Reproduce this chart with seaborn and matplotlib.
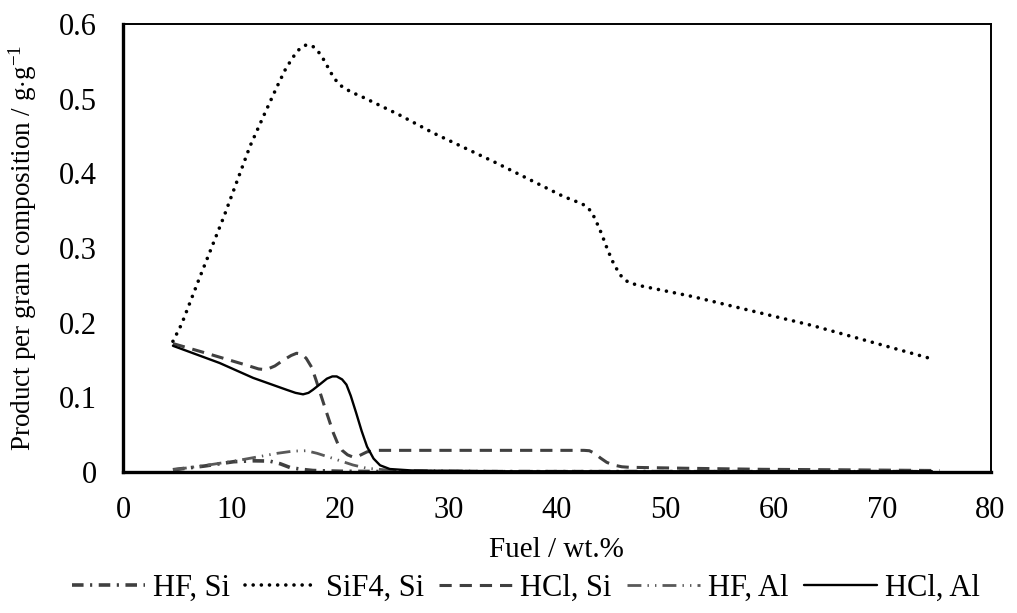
import matplotlib
matplotlib.use("Agg")
import matplotlib.pyplot as plt
import seaborn as sns
import pandas as pd

# Fuel loading (wt.%) and product yield per gram of composition (g/g)
sif4_si_x = [4.6, 5.4, 7.0, 9.3, 11.7, 13.0, 14.2, 15.0, 15.7, 16.3, 16.9, 17.5, 18.0,
             18.6, 19.1, 19.6, 20.0, 21.0, 22.1, 25.5, 28.6, 34.4, 40.6, 42.0, 42.6, 43.1,
             43.5, 44.1, 44.7, 45.3, 46.0, 46.6, 47.5, 52.5, 63.6, 74.7]
sif4_si_y = [0.175, 0.198, 0.258, 0.342, 0.436, 0.478, 0.516, 0.540, 0.556, 0.567, 0.572,
             0.570, 0.563, 0.550, 0.536, 0.525, 0.518, 0.509, 0.502, 0.478, 0.454, 0.414,
             0.369, 0.361, 0.357, 0.350, 0.340, 0.320, 0.297, 0.277, 0.261, 0.254, 0.250,
             0.235, 0.196, 0.151]

hcl_si_x = [4.6, 7.7, 11.4, 12.5, 13.2, 14.0, 14.8, 15.5, 16.0, 16.5, 16.9, 17.4, 17.8,
            18.6, 19.4, 19.8, 20.2, 20.7, 21.2, 21.8, 22.5, 23.5, 24.0, 30.0, 40.0, 42.5,
            43.0, 43.5, 44.0, 44.6, 45.2, 46.0, 46.7, 52.0, 59.0, 66.0, 75.3]
hcl_si_y = [0.172, 0.159, 0.143, 0.138, 0.137, 0.142, 0.150, 0.156, 0.159, 0.158, 0.152,
            0.140, 0.123, 0.087, 0.052, 0.038, 0.029, 0.023, 0.020, 0.022, 0.027, 0.029,
            0.029, 0.029, 0.029, 0.029, 0.0285, 0.025, 0.019, 0.013, 0.0094, 0.007,
            0.0063, 0.005, 0.0036, 0.003, 0.002]

hcl_al_x = [4.6, 8.9, 12.0, 15.1, 15.9, 16.6, 17.1, 17.5, 18.2, 18.8, 19.3, 19.7, 20.2,
            20.6, 21.0, 21.5, 22.0, 22.5, 23.1, 23.7, 24.6, 26.7, 35.0, 50.0, 74.6]
hcl_al_y = [0.169, 0.146, 0.126, 0.110, 0.106, 0.104, 0.106, 0.110, 0.118, 0.125, 0.128,
            0.128, 0.124, 0.117, 0.102, 0.079, 0.055, 0.034, 0.018, 0.009, 0.004, 0.002,
            0.001, 0.001, 0.001]

hf_si_x = [4.6, 7.5, 10.2, 12.0, 13.5, 14.5, 15.4, 16.5, 17.5, 20.0, 25.0, 40.0, 60.0, 74.6]
hf_si_y = [0.003, 0.008, 0.0138, 0.015, 0.0147, 0.011, 0.006, 0.0035, 0.002, 0.001,
           0.0005, 0.0005, 0.0005, 0.0005]

hf_al_x = [4.6, 7.7, 10.8, 14.2, 15.7, 16.9, 17.9, 19.4, 21.2, 22.5, 24.9, 35.0, 74.6]
hf_al_y = [0.003, 0.009, 0.016, 0.025, 0.028, 0.0285, 0.025, 0.018, 0.0094, 0.005,
           0.002, 0.001, 0.001]

x_ticks = [0, 10, 20, 30, 40, 50, 60, 70, 80]
y_ticks = [0, 0.1, 0.2, 0.3, 0.4, 0.5, 0.6]
y_tick_labels = ["0", "0.1", "0.2", "0.3", "0.4", "0.5", "0.6"]

sns.set_theme(style="white")
plt.rcParams["font.family"] = ["Liberation Serif", "DejaVu Serif"]
plt.rcParams["mathtext.fontset"] = "custom"
plt.rcParams["mathtext.rm"] = "Liberation Serif"
plt.rcParams["mathtext.it"] = "Liberation Serif:italic"

fig = plt.figure(figsize=(10.17, 6.13), dpi=100)
ax = fig.add_axes([0.121, 0.230, 0.853, 0.731])

series = [
    ("HF, Si", hf_si_x, hf_si_y, dict(color="#404040", lw=2.6), (3.2, 1.8, 0.6, 1.8)),
    ("SiF4, Si", sif4_si_x, sif4_si_y, dict(color="black", lw=2.6, dash_capstyle="round"),
     (0.01, 2.25)),
    ("HCl, Si", hcl_si_x, hcl_si_y, dict(color="#404040", lw=2.2), (4.0, 2.6)),
    ("HF, Al", hf_al_x, hf_al_y, dict(color="#595959", lw=2.0), (5.0, 2.2, 0.5, 2.2, 0.5, 2.2)),
    ("HCl, Al", hcl_al_x, hcl_al_y, dict(color="black", lw=1.7), None),
]

for name, xs, ys, style, dashes in series:
    df = pd.DataFrame({"x": xs, "y": ys})
    sns.lineplot(data=df, x="x", y="y", ax=ax, label=name, sort=False,
                 estimator=None, **style)
    if dashes is not None:
        ax.lines[-1].set_dashes(dashes)

ax.set_xlim(0, 80)
ax.set_ylim(0, 0.6)
ax.set_xticks(x_ticks)
ax.set_yticks(y_ticks)
ax.set_yticklabels(y_tick_labels)
ax.tick_params(axis="both", direction="inout", length=12, width=2.2, color="black",
               labelsize=22, labelcolor="black")
ax.tick_params(axis="x", pad=11)
ax.tick_params(axis="y", pad=13)

for side in ["left", "bottom"]:
    ax.spines[side].set_linewidth(2.4)
    ax.spines[side].set_color("black")
for side in ["top", "right"]:
    ax.spines[side].set_linewidth(1.4)
    ax.spines[side].set_color("black")

ax.set_xlabel("Fuel / wt.%", fontsize=21, color="black", labelpad=9)
ax.set_ylabel(r"Product per gram composition / g$\cdot$g$^{-1}$", fontsize=19.5,
              color="black", labelpad=14)

ax.get_legend().remove()
handles, labels = ax.get_legend_handles_labels()
fig.legend(handles, labels, loc="center", bbox_to_anchor=(0.517, 0.041), ncol=5,
           frameon=False, fontsize=22, handlelength=2.4, handletextpad=0.25,
           columnspacing=0.5, labelcolor="black")

fig.savefig("out.png", dpi=100)
